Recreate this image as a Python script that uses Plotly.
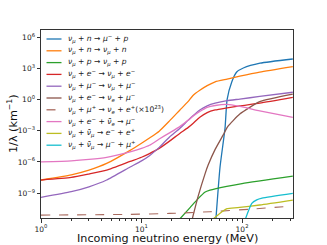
import plotly.graph_objects as go

# ---------------- data ----------------
E_main = [1, 2, 3, 4.5, 7.7, 10, 12, 15, 19, 24, 29, 32.5, 38, 45, 54, 71, 95, 150, 320]

R_nmu_n_nc = [1.8e-8, 5.6e-8, 1.6e-7, 7.1e-7, 1.3e-5, 6.3e-5, 2.0e-4, 9.1e-4, 8.9e-3, 9.5e-2,
              0.63, 2.5, 7.9, 22, 52, 95, 180, 450, 1.5e3]
R_nmu_e_nc = [1.8e-8, 3.2e-8, 6.8e-8, 1.6e-7, 1.1e-6, 2.8e-6, 6.3e-6, 2.0e-5, 1.0e-4, 5.5e-4,
              2.0e-3, 5.0e-3, 2.0e-2, 5.6e-2, 0.1, 0.16, 0.25, 0.45, 1.6]
R_nmu_mu_nc = [3.9e-10, 1.35e-9, 4.0e-9, 1.8e-8, 3.2e-7, 1.26e-6, 4.0e-6, 2.5e-5, 2.5e-4, 1.66e-3,
               1.0e-2, 2.8e-2, 0.1, 0.25, 0.45, 0.79, 1.12, 2.0, 5.1]
R_nmu_e_nuebar = [1.0e-6, 1.26e-6, 1.74e-6, 2.8e-6, 9.3e-6, 2.0e-5, 4.0e-5, 1.6e-4, 6.3e-4, 2.5e-3,
                  1.0e-2, 2.5e-2, 7.1e-2, 0.18, 0.27, 0.34, 0.22, 0.083, 0.019]

E_nmu_n_cc = [54.5, 60.4, 67.7, 71, 79, 88.5, 103, 151, 320]
R_nmu_n_cc = [1e-12, 3.2e-7, 1.7e-3, 1.0, 50, 450, 1.1e3, 3.2e3, 8.1e3]

E_nmu_p = [22, 30.4, 36, 43, 48, 54, 100, 320]
R_nmu_p = [1.26e-12, 4.0e-11, 2.5e-10, 1.26e-9, 1.9e-9, 2.6e-9, 8.3e-9, 4.3e-8]

E_nmu_e_cc = [31, 36.5, 43, 46, 54, 65, 72, 95, 150, 320]
R_nmu_e_cc = [1e-12, 4.5e-10, 7.9e-8, 5.0e-7, 1.6e-5, 4.0e-4, 2.5e-3, 4.0e-2, 0.63, 3.3]

E_nmu_mup = [1, 7.7, 19, 48, 120, 320]
R_nmu_mup = [7.6e-12, 8.9e-12, 1.1e-11, 1.6e-11, 2.8e-11, 5.6e-11]

E_ann_ee = [50, 60, 71, 90, 150, 320]
R_ann_ee = [2.5e-12, 1.1e-11, 3.2e-11, 4.0e-11, 7.1e-11, 2.1e-10]

E_ann_mumu = [107, 125, 140, 158, 320]
R_ann_mumu = [2.5e-12, 1.0e-10, 2.2e-10, 3.2e-10, 9.3e-10]

NU = "<i>ν</i><sub><i>μ</i></sub>"
labels = [
    NU + " + <i>n</i> → <i>μ</i><sup>−</sup> + <i>p</i>",
    NU + " + <i>n</i> → " + NU + " + <i>n</i>",
    NU + " + <i>p</i> → " + NU + " + <i>p</i>",
    NU + " + <i>e</i><sup>−</sup> → " + NU + " + <i>e</i><sup>−</sup>",
    NU + " + <i>μ</i><sup>−</sup> → " + NU + " + <i>μ</i><sup>−</sup>",
    NU + " + <i>e</i><sup>−</sup> → <i>ν</i><sub><i>e</i></sub> + <i>μ</i><sup>−</sup>",
    NU + " + <i>μ</i><sup>+</sup> → <i>ν</i><sub><i>e</i></sub> + <i>e</i><sup>+</sup>(×10<sup>23</sup>)",
    NU + " + <i>e</i><sup>−</sup> + <i>ν̄</i><sub><i>e</i></sub> → <i>μ</i><sup>−</sup>",
    NU + " + <i>ν̄</i><sub><i>μ</i></sub> → <i>e</i><sup>−</sup> + <i>e</i><sup>+</sup>",
    NU + " + <i>ν̄</i><sub><i>μ</i></sub> → <i>μ</i><sup>−</sup> + <i>μ</i><sup>+</sup>",
]
colors = ["#1f77b4", "#ff7f0e", "#2ca02c", "#d62728", "#9467bd",
          "#8c564b", "#a86a5e", "#e377c2", "#bcbd22", "#17becf"]
dashes = ["solid"] * 6 + ["dash"] + ["solid"] * 3

series = [
    (E_nmu_n_cc, R_nmu_n_cc),
    (E_main, R_nmu_n_nc),
    (E_nmu_p, R_nmu_p),
    (E_main, R_nmu_e_nc),
    (E_main, R_nmu_mu_nc),
    (E_nmu_e_cc, R_nmu_e_cc),
    (E_nmu_mup, R_nmu_mup),
    (E_main, R_nmu_e_nuebar),
    (E_ann_ee, R_ann_ee),
    (E_ann_mumu, R_ann_mumu),
]

# ---------------- figure ----------------
W, H = 327, 245
L, R, T, B = 41, 34, 30, 27
PW, PH = W - L - R, H - T - B

def px2paper(x, y):
    return (x - L) / PW, (H - B - y) / PH

fig = go.Figure()
for (ex, ry), c, d, lab in zip(series, colors, dashes, labels):
    fig.add_trace(go.Scatter(
        x=ex, y=ry, mode="lines", name=lab, showlegend=False, hoverinfo="skip",
        line=dict(color=c, width=1.3 if d == "solid" else 1.1, dash=d,
                  shape="spline", smoothing=0.5),
    ))

# hand-drawn legend (matplotlib-like, compact)
shapes = []
annotations = []
for i, (lab, c, d) in enumerate(zip(labels, colors, dashes)):
    yc = 39 + 11.8 * i
    x0, y0 = px2paper(46.5, yc)
    x1, _ = px2paper(61.5, yc)
    shapes.append(dict(type="line", xref="paper", yref="paper", x0=x0, x1=x1, y0=y0, y1=y0,
                       line=dict(color=c, width=1.3, dash="dash" if d == "dash" else "solid")))
    tx, ty = px2paper(66, yc)
    annotations.append(dict(text=lab, xref="paper", yref="paper", x=tx, y=ty,
                            xanchor="left", yanchor="middle", showarrow=False,
                            font=dict(size=7.6, color="#222")))

# axis titles
ax, ay = px2paper(167, 238)
annotations.append(dict(text="Incoming neutrino energy (MeV)", xref="paper", yref="paper",
                        x=ax, y=ay, xanchor="center", yanchor="middle", showarrow=False,
                        font=dict(size=11.2, color="#111")))
bx, by = px2paper(12, 124)
annotations.append(dict(text="1/λ (km<sup>−1</sup>)", xref="paper", yref="paper",
                        x=bx, y=by, xanchor="center", yanchor="middle", showarrow=False,
                        textangle=-90, font=dict(size=11.2, color="#111")))

minor_x = [m * 10 ** k for k in range(0, 3) for m in range(2, 10) if m * 10 ** k <= 320]

fig.update_layout(
    width=W, height=H,
    margin=dict(l=L, r=R, t=T, b=B, pad=0),
    paper_bgcolor="white", plot_bgcolor="white",
    font=dict(family="DejaVu Sans", color="#222"),
    shapes=shapes, annotations=annotations,
    showlegend=False,
)
fig.update_xaxes(
    type="log", range=[0, 2.507], showgrid=False, zeroline=False,
    showline=True, linecolor="#333", linewidth=1, mirror=True,
    ticks="outside", ticklen=3.5, tickwidth=0.8, tickcolor="#333",
    tickvals=[1, 10, 100], ticktext=["10<sup>0</sup>", "10<sup>1</sup>", "10<sup>2</sup>"],
    tickfont=dict(size=7.5, color="#222"),
    minor=dict(tickvals=minor_x, ticks="outside", ticklen=2, tickwidth=0.6, tickcolor="#333"),
)
fig.update_yaxes(
    type="log", range=[-11.4, 6.7], showgrid=False, zeroline=False,
    showline=True, linecolor="#333", linewidth=1, mirror=True,
    ticks="outside", ticklen=3.5, tickwidth=0.8, tickcolor="#333",
    tickvals=[1e-9, 1e-6, 1e-3, 1, 1e3, 1e6],
    ticktext=["10<sup>−9</sup>", "10<sup>−6</sup>", "10<sup>−3</sup>", "10<sup>0</sup>",
              "10<sup>3</sup>", "10<sup>6</sup>"],
    tickfont=dict(size=7.5, color="#222"),
)

fig.write_html("out.html", config={"displayModeBar": False},
               post_script="document.body.style.margin='0';")
